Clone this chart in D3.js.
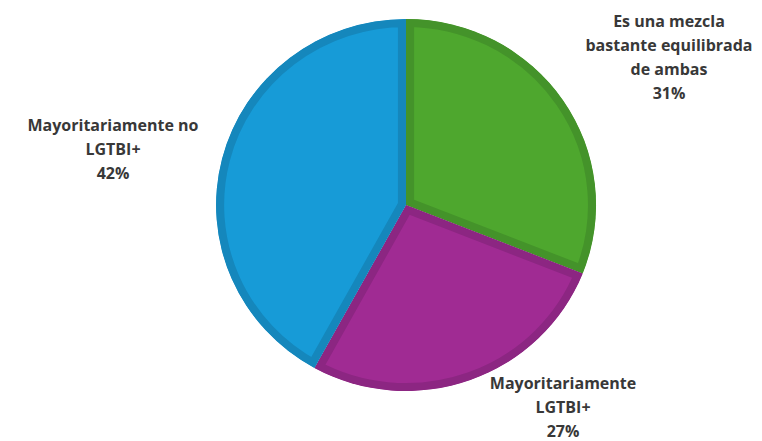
<!DOCTYPE html>
<html><head><meta charset="utf-8">
<script src="https://cdn.jsdelivr.net/npm/d3@7"></script>
<style>html,body{margin:0;padding:0;background:#fff;}svg{display:block;}</style>
</head><body>
<svg id="chart" width="762" height="441"></svg>
<script>
const categories = ["Es una mezcla bastante equilibrada de ambas", "Mayoritariamente LGTBI+", "Mayoritariamente no LGTBI+"];
const values = [31, 27, 42];
const colors = ["#4EA72E", "#A02B93", "#179BD7"];
const edgeColors = ["#44932A", "#8C2682", "#1587BC"];
const labelLines = [
  ["Es una mezcla", "bastante equilibrada", "de ambas", "31%"],
  ["Mayoritariamente", "LGTBI+", "27%"],
  ["Mayoritariamente no", "LGTBI+", "42%"]
];
const labelPos = [[669, 27], [563, 389], [113, 131]];

const svg = d3.select("#chart");
const cx = 406, cy = 205, rx = 190, ry = 186;
const pie = d3.pie().sort(null).value(d => d)(values);
const arc = d3.arc().innerRadius(0).outerRadius(1);
const g = svg.append("g").attr("transform", `translate(${cx},${cy}) scale(${rx},${ry})`);
const defs = svg.append("defs");
pie.forEach((p, i) => {
  defs.append("clipPath").attr("id", "clip" + i)
    .append("path").attr("d", arc(p));
});
const sl = g.selectAll("g.slice").data(pie).join("g").attr("class", "slice")
  .attr("clip-path", (d, i) => `url(#clip${i})`);
sl.append("path").attr("d", arc).attr("fill", (d, i) => colors[i]);
sl.append("path").attr("d", arc).attr("fill", "none")
  .attr("stroke", (d, i) => edgeColors[i])
  .attr("stroke-width", 16 / 188)
  .attr("stroke-linejoin", "miter");

const lbl = svg.append("g");
labelLines.forEach((lines, i) => {
  const t = lbl.append("text")
    .attr("x", labelPos[i][0]).attr("y", labelPos[i][1])
    .attr("text-anchor", "middle")
    .attr("font-family", "Open Sans, sans-serif")
    .attr("font-weight", "bold")
    .attr("font-size", 16)
    .attr("fill", "#383838");
  lines.forEach((l, j) => {
    t.append("tspan").attr("x", labelPos[i][0]).attr("dy", j === 0 ? 0 : 24).text(l);
  });
});
</script>
</body></html>
